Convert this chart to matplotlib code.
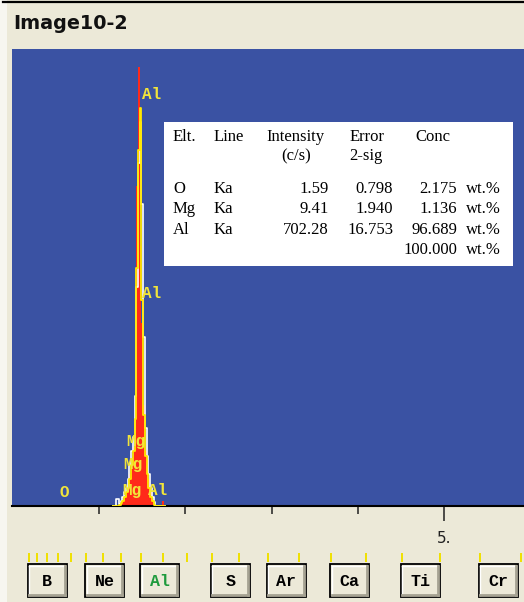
import matplotlib
matplotlib.use('Agg')
import matplotlib.pyplot as plt
from matplotlib.patches import Rectangle
import matplotlib.transforms as mtransforms

# ---------------- data ----------------
energy = [1.16, 1.18, 1.20, 1.22, 1.24, 1.26, 1.28, 1.30, 1.32, 1.34, 1.36,
          1.38, 1.40, 1.42, 1.44, 1.46, 1.48, 1.50, 1.52, 1.54, 1.56, 1.58,
          1.60, 1.62, 1.64, 1.66, 1.68, 1.70, 1.72, 1.74, 1.76]
red_counts = [0, 0, 0, 0, 0.3, 0.6, 1, 2, 3, 5, 7,
              10, 13, 22, 70, 96, 57, 40, 22, 12, 9, 6,
              3, 1.5, 0.5, 0.3, 0, 0, 0, 1, 0]
yellow_counts = [0, 0, 0, 0, 0.3, 0.6, 1, 2, 3, 4, 6,
                 9, 12, 19, 52, 78, 87, 45, 20, 11, 7, 4,
                 2, 1, 0.3, 0, 0, 0, 0, 0, 0]
white_counts = [0, 0, 1.5, 1.5, 0.5, 1, 2, 3, 4, 6, 9,
                12, 15, 24, 48, 75, 84, 66, 37, 17, 11, 7,
                4, 2, 0.8, 0, 0, 0, 0, 0, 0]

peak_label_text = ['Al', 'Al', 'Mg', 'Mg', 'Mg', 'Al', 'O']
peak_label_energy = [1.486, 1.486, 1.302, 1.27, 1.254, 1.557, 0.525]
peak_label_height = [89.1, 45.5, 13.1, 8.1, 2.4, 2.4, 2.0]

tbl_elements = ['O', 'Mg', 'Al']
tbl_lines = ['Ka', 'Ka', 'Ka']
tbl_intensity = ['1.59', '9.41', '702.28']
tbl_error = ['0.798', '1.940', '16.753']
tbl_conc = ['2.175', '1.136', '96.689']
tbl_total = '100.000'

marker_energy = [0.183, 0.277, 0.392, 0.525, 0.677, 0.849, 1.041, 1.254, 1.486,
                 1.740, 2.013, 2.307, 2.622, 2.957, 3.313, 3.691, 4.090, 4.510,
                 4.952, 5.414, 5.898]
button_elements = ['B', 'Ne', 'Al', 'S', 'Ar', 'Ca', 'Ti', 'Cr']
button_energy = [0.183, 0.849, 1.486, 2.307, 2.957, 3.691, 4.510, 5.414]

major_ticks = [5]
major_labels = ['5.']
minor_ticks = [1, 2, 3, 4]

# ---------------- figure ----------------
W, H = 524, 602
PX_PER_KEV = 86.2
fig = plt.figure(figsize=(W / 100, H / 100), dpi=100)
fig.patch.set_facecolor('#ECE9D8')

ax = fig.add_axes([12 / W, (H - 506) / H, (W - 12) / W, (506 - 49) / H])
ax.set_facecolor('#3A52A3')
ax.set_xlim(-1 / PX_PER_KEV, (W - 13) / PX_PER_KEV)
ax.set_ylim(0, 100)
for s in ['left', 'right', 'top']:
    ax.spines[s].set_visible(False)
ax.spines['bottom'].set_linewidth(1.5)
ax.spines['bottom'].set_color('black')
ax.set_yticks([])
ax.set_xticks(major_ticks)
ax.set_xticklabels(major_labels)
ax.set_xticks(minor_ticks, minor=True)
ax.tick_params(axis='x', which='major', length=10.8, width=1.1, pad=7,
               labelsize=11, labelcolor='#202020', color='#202020')
ax.tick_params(axis='x', which='minor', length=5.8, width=1.1, color='#202020')

# spectrum
ax.fill_between(energy, 0, red_counts, step='mid', color='#FF2A1A', lw=0, zorder=2)
ax.step(energy, white_counts, where='mid', color='white', lw=1.2, zorder=3)
ax.step(energy, yellow_counts, where='mid', color='#FFE800', lw=1.3, zorder=4)

for t, e, h in zip(peak_label_text, peak_label_energy, peak_label_height):
    ax.annotate(t, (e, h), xytext=(1, 0), textcoords='offset pixels',
                ha='left', va='baseline', color='#F2E53A',
                family='Liberation Mono', fontweight='bold', fontsize=11.5, zorder=5)

# ---------------- overlay (pixel coordinates) ----------------
ovl = fig.add_axes([0, 0, 1, 1], zorder=10)
ovl.set_xlim(0, W)
ovl.set_ylim(H, 0)
ovl.axis('off')
ovl.patch.set_alpha(0)

ovl.add_patch(Rectangle((0, 0), 7, H, facecolor='#F7F6F0', lw=0))
ovl.plot([3, W], [2, 2], color='black', lw=1.6)
ovl.text(13, 29, 'Image10-2', fontsize=13.8, fontweight='bold',
         va='baseline', ha='left', color='#111111', family='DejaVu Sans')

# results table
ovl.add_patch(Rectangle((164, 122), 349, 144, facecolor='white', lw=0))
tf = dict(family='Liberation Serif', fontsize=12, color='black', va='baseline')
ovl.text(173, 141, 'Elt.', ha='left', **tf)
ovl.text(214, 141, 'Line', ha='left', **tf)
ovl.text(266, 141, 'Intensity', ha='left', **tf)
ovl.text(281, 160, '(c/s)', ha='left', **tf)
ovl.text(350, 141, 'Error', ha='left', **tf)
ovl.text(349, 160, '2-sig', ha='left', **tf)
ovl.text(415, 141, 'Conc', ha='left', **tf)
row_y = [193, 213, 234]
for i in range(3):
    y = row_y[i]
    ovl.text(173, y, tbl_elements[i], ha='left', **tf)
    ovl.text(214, y, tbl_lines[i], ha='left', **tf)
    ovl.text(329, y, tbl_intensity[i], ha='right', **tf)
    ovl.text(393, y, tbl_error[i], ha='right', **tf)
    ovl.text(457, y, tbl_conc[i], ha='right', **tf)
    ovl.text(466, y, 'wt.%', ha='left', **tf)
ovl.text(457, 254, tbl_total, ha='right', **tf)
ovl.text(466, 254, 'wt.%', ha='left', **tf)

# element markers and buttons, x in keV via main axes
blend = mtransforms.blended_transform_factory(ax.transData, ovl.transData)
for e in marker_energy:
    ovl.plot([e, e], [553, 562], color='#F0E000', lw=1.4, transform=blend,
             solid_capstyle='butt')

px = 1 / PX_PER_KEV
bw = 39 * px
for el, e in zip(button_elements, button_energy):
    x0 = e - px
    ovl.add_patch(Rectangle((x0, 564), bw, 33, transform=blend,
                            facecolor='#ECE9D8', edgecolor='black', lw=1.3))
    ovl.plot([x0 + 1.5 * px, x0 + bw - 2 * px], [565.6, 565.6], color='white',
             lw=1, transform=blend)
    ovl.plot([x0 + 1.5 * px, x0 + 1.5 * px], [565.6, 594.5], color='white',
             lw=1, transform=blend)
    ovl.plot([x0 + 1.5 * px, x0 + bw - 1.8 * px], [594.8, 594.8], color='#A5A292',
             lw=2, transform=blend)
    ovl.plot([x0 + bw - 1.8 * px, x0 + bw - 1.8 * px], [566, 594.8], color='#A5A292',
             lw=2, transform=blend)
    ovl.text(x0 + bw / 2, 581, el, transform=blend, ha='center', va='center',
             family='Liberation Mono', fontweight='bold', fontsize=12,
             color='#1E9A3C' if el == 'Al' else 'black')

fig.savefig('out.png', dpi=100, facecolor=fig.get_facecolor())
